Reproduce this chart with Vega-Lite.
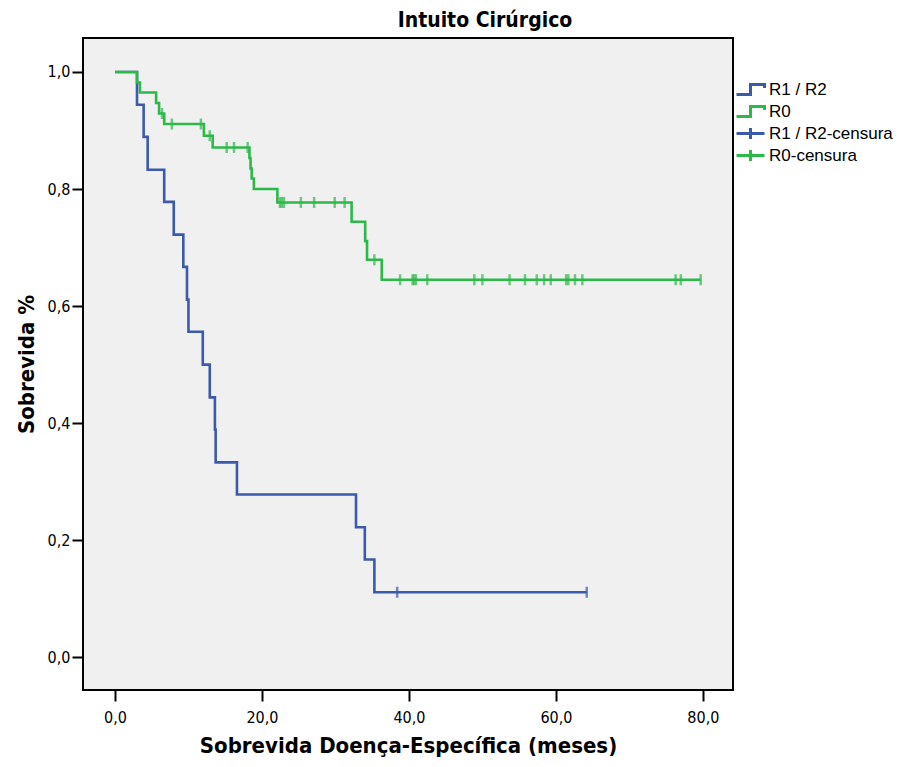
{
  "$schema": "https://vega.github.io/schema/vega-lite/v6.json",
  "width": 650,
  "height": 652,
  "padding": {"left": 15, "top": 10, "right": 5, "bottom": 5},
  "background": "white",
  "title": {"text": "Intuito Cirúrgico", "fontSize": 21, "font": "'Liberation Sans Narrow', 'DejaVu Sans Condensed', 'Liberation Sans'", "fontWeight": "bold", "color": "#000", "anchor": "middle", "dx": 77, "offset": 7},
  "config": {
    "view": {"stroke": "#000", "strokeWidth": 2, "fill": "#f0f0f0"},
    "axis": {"domain": false, "grid": false, "tickColor": "#000", "tickWidth": 2, "tickSize": 11, "labelFont": "'Liberation Sans Narrow', 'DejaVu Sans Condensed', 'Liberation Sans'", "labelFontSize": 16, "labelColor": "#000", "titleFont": "'Liberation Sans Narrow', 'DejaVu Sans Condensed', 'Liberation Sans'", "titleFontSize": 22, "titleFontWeight": "bold", "titleColor": "#000"},
    "legend": {"labelFont": "Liberation Sans", "labelFontSize": 17, "labelColor": "#000"}
  },
  "datasets": {
    "curves": [
      {"grupo": "R1 / R2", "t": 0, "s": 1.0},
      {"grupo": "R1 / R2", "t": 3.0, "s": 0.944},
      {"grupo": "R1 / R2", "t": 3.9, "s": 0.889},
      {"grupo": "R1 / R2", "t": 4.45, "s": 0.833},
      {"grupo": "R1 / R2", "t": 6.7, "s": 0.778},
      {"grupo": "R1 / R2", "t": 8.0, "s": 0.722},
      {"grupo": "R1 / R2", "t": 9.3, "s": 0.667},
      {"grupo": "R1 / R2", "t": 9.8, "s": 0.611},
      {"grupo": "R1 / R2", "t": 10.0, "s": 0.556},
      {"grupo": "R1 / R2", "t": 11.95, "s": 0.5},
      {"grupo": "R1 / R2", "t": 12.9, "s": 0.444},
      {"grupo": "R1 / R2", "t": 13.6, "s": 0.389},
      {"grupo": "R1 / R2", "t": 13.7, "s": 0.333},
      {"grupo": "R1 / R2", "t": 16.6, "s": 0.278},
      {"grupo": "R1 / R2", "t": 32.8, "s": 0.222},
      {"grupo": "R1 / R2", "t": 34.0, "s": 0.167},
      {"grupo": "R1 / R2", "t": 35.3, "s": 0.111},
      {"grupo": "R1 / R2", "t": 64.2, "s": 0.111},
      {"grupo": "R0", "t": 0, "s": 1.0},
      {"grupo": "R0", "t": 3.0, "s": 0.982},
      {"grupo": "R0", "t": 3.4, "s": 0.965},
      {"grupo": "R0", "t": 5.6, "s": 0.947},
      {"grupo": "R0", "t": 6.0, "s": 0.929},
      {"grupo": "R0", "t": 6.7, "s": 0.911},
      {"grupo": "R0", "t": 12.1, "s": 0.891},
      {"grupo": "R0", "t": 13.3, "s": 0.871},
      {"grupo": "R0", "t": 18.3, "s": 0.853},
      {"grupo": "R0", "t": 18.45, "s": 0.835},
      {"grupo": "R0", "t": 18.6, "s": 0.818},
      {"grupo": "R0", "t": 18.9, "s": 0.8},
      {"grupo": "R0", "t": 22.1, "s": 0.777},
      {"grupo": "R0", "t": 32.2, "s": 0.744},
      {"grupo": "R0", "t": 34.05, "s": 0.711},
      {"grupo": "R0", "t": 34.3, "s": 0.679},
      {"grupo": "R0", "t": 36.3, "s": 0.645},
      {"grupo": "R0", "t": 79.7, "s": 0.645}
    ],
    "censura": [
      {"grupo": "R1 / R2-censura", "t": 38.4, "s": 0.111},
      {"grupo": "R1 / R2-censura", "t": 64.2, "s": 0.111},
      {"grupo": "R0-censura", "t": 6.4, "s": 0.929},
      {"grupo": "R0-censura", "t": 7.75, "s": 0.911},
      {"grupo": "R0-censura", "t": 11.7, "s": 0.911},
      {"grupo": "R0-censura", "t": 12.9, "s": 0.891},
      {"grupo": "R0-censura", "t": 15.2, "s": 0.871},
      {"grupo": "R0-censura", "t": 16.2, "s": 0.871},
      {"grupo": "R0-censura", "t": 18.05, "s": 0.871},
      {"grupo": "R0-censura", "t": 22.45, "s": 0.777},
      {"grupo": "R0-censura", "t": 22.7, "s": 0.777},
      {"grupo": "R0-censura", "t": 23.0, "s": 0.777},
      {"grupo": "R0-censura", "t": 25.3, "s": 0.777},
      {"grupo": "R0-censura", "t": 27.1, "s": 0.777},
      {"grupo": "R0-censura", "t": 29.9, "s": 0.777},
      {"grupo": "R0-censura", "t": 31.25, "s": 0.777},
      {"grupo": "R0-censura", "t": 35.3, "s": 0.679},
      {"grupo": "R0-censura", "t": 38.8, "s": 0.645},
      {"grupo": "R0-censura", "t": 40.5, "s": 0.645},
      {"grupo": "R0-censura", "t": 40.7, "s": 0.645},
      {"grupo": "R0-censura", "t": 40.95, "s": 0.645},
      {"grupo": "R0-censura", "t": 42.5, "s": 0.645},
      {"grupo": "R0-censura", "t": 48.9, "s": 0.645},
      {"grupo": "R0-censura", "t": 50.0, "s": 0.645},
      {"grupo": "R0-censura", "t": 53.7, "s": 0.645},
      {"grupo": "R0-censura", "t": 55.8, "s": 0.645},
      {"grupo": "R0-censura", "t": 57.4, "s": 0.645},
      {"grupo": "R0-censura", "t": 58.4, "s": 0.645},
      {"grupo": "R0-censura", "t": 59.3, "s": 0.645},
      {"grupo": "R0-censura", "t": 61.4, "s": 0.645},
      {"grupo": "R0-censura", "t": 61.7, "s": 0.645},
      {"grupo": "R0-censura", "t": 62.6, "s": 0.645},
      {"grupo": "R0-censura", "t": 63.6, "s": 0.645},
      {"grupo": "R0-censura", "t": 76.3, "s": 0.645},
      {"grupo": "R0-censura", "t": 77.0, "s": 0.645},
      {"grupo": "R0-censura", "t": 79.7, "s": 0.645}
    ]
  },
  "encoding": {
    "x": {"field": "t", "type": "quantitative",
      "scale": {"domain": [-4.35, 84.1], "nice": false, "zero": false},
      "axis": {"values": [0, 20, 40, 60, 80], "labelExpr": "replace(format(datum.value, '.1f'), '.', ',')", "labelPadding": 8, "title": "Sobrevida Doença-Específica (meses)", "titlePadding": 10}},
    "y": {"field": "s", "type": "quantitative",
      "scale": {"domain": [-0.056, 1.058], "nice": false, "zero": false},
      "axis": {"values": [0, 0.2, 0.4, 0.6, 0.8, 1.0], "labelExpr": "replace(format(datum.value, '.1f'), '.', ',')", "labelPadding": 2, "title": "Sobrevida %", "titlePadding": 9}},
    "color": {"field": "grupo", "type": "nominal",
      "scale": {"domain": ["R1 / R2", "R0", "R1 / R2-censura", "R0-censura"], "range": ["#3c5aab", "#2db84a", "#3c5aab", "#2db84a"]},
      "legend": {"title": null, "orient": "none", "legendX": 659, "legendY": 43, "padding": 0, "rowPadding": -1, "symbolSize": 100, "symbolStrokeWidth": 3, "labelOffset": 10,
        "encode": {"symbols": {"update": {
          "shape": {"signal": "indexof(datum.value, 'censura') >= 0 ? 'M-2.8,0H2.8M0,-1.1V1.1' : 'M-2.8,1H0V-1H2.8V-0.3'"},
          "fill": {"value": "transparent"},
          "fillOpacity": {"value": 0},
          "opacity": {"value": 1},
          "strokeWidth": {"value": 3},
          "stroke": {"scale": "color", "field": "value"}
        }}}}}
  },
  "layer": [
    {"data": {"name": "curves"},
     "mark": {"type": "line", "interpolate": "step-after", "strokeWidth": 2.6}},
    {"data": {"name": "censura"},
     "mark": {"type": "tick", "orient": "vertical", "size": 11, "thickness": 2.5}}
  ]
}
